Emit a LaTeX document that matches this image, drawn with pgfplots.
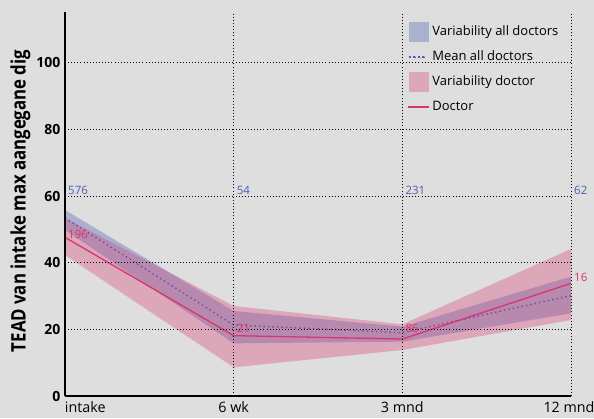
\documentclass[border=0pt]{standalone}
\usepackage{pgfplots}
\pgfplotsset{compat=1.18}
\usepackage{fontspec}
\setmainfont{Open Sans}
\definecolor{bggray}{HTML}{DEDEDE}
\definecolor{bluec}{HTML}{4A5FB4}
\definecolor{pinkc}{HTML}{D8356E}
\begin{document}
\begin{tikzpicture}[x=1pt,y=1pt]
\fill[bggray] (-65,-22) rectangle (529,396);
\path[use as bounding box] (-65,-22) rectangle (529,396);
\begin{axis}[
  at={(0,0)}, anchor=south west,
  scale only axis, width=506pt, height=384pt,
  xmin=0, xmax=3, ymin=0, ymax=115.2,
  clip=false,
  axis x line=bottom, axis y line=left,
  axis line style={-, line width=1.6pt, black},
  xtick={0,1,2,3}, xticklabels={\rlap{intake},6 wk,3 mnd,12 mnd\hspace*{4pt}},
  ytick={0,20,40,60,80,100},
  major tick length=0pt,
  grid=major,
  major grid style={black, line width=0.9pt, dash pattern=on 0.9pt off 2.2pt},
  axis on top,
  /pgf/number format/assume math mode=true,
  xticklabel style={font=\fontsize{14.3}{16}\selectfont, yshift=-2pt},
  yticklabel style={font=\fontsize{14}{16}\selectfont\bfseries, xshift=-1pt},
  ylabel={\scalebox{0.84}[1]{TEAD van intake max aangegane dig}},
  ylabel style={at={(axis description cs:-0.088,0.508)}, anchor=center, font=\fontsize{20}{22}\selectfont\bfseries},
  legend style={at={(0.672,0.98)}, anchor=north west, draw=none, fill=none,
    font=\fontsize{13}{15}\selectfont, row sep=5pt,
    nodes={text height=14pt, text depth=6pt, inner ysep=0pt, inner xsep=3.5pt}},
  legend cell align=left,
]
\addplot[fill=bluec, fill opacity=0.35, draw=none,
  legend image code/.code={\fill[bluec, fill opacity=0.35] (0pt,-10pt) rectangle (20pt,10pt);}]
  coordinates {(0,55.8)(1,25.5)(2,20.8)(3,35.8)(3,24.8)(2,16.3)(1,15.8)(0,49.8)} -- cycle;
\addlegendentry{Variability all doctors}
\addplot[bluec, line width=1.5pt, dash pattern=on 1.5pt off 3pt,
  legend image code/.code={\fill[bluec] (0.5pt,-0.75pt) rectangle (2pt,0.75pt) (5pt,-0.75pt) rectangle (6.5pt,0.75pt) (9.5pt,-0.75pt) rectangle (11pt,0.75pt) (14pt,-0.75pt) rectangle (15.5pt,0.75pt);}]
  coordinates {(0,53.4)(1,21.3)(2,19.0)(3,30.1)};
\addlegendentry{Mean all doctors}
\addplot[fill=pinkc, fill opacity=0.32, draw=none,
  legend image code/.code={\fill[pinkc, fill opacity=0.32] (0pt,-10pt) rectangle (20pt,10pt);}]
  coordinates {(0,53.4)(1,27.0)(2,21.5)(3,44.1)(3,22.8)(2,13.8)(1,8.6)(0,42.3)} -- cycle;
\addlegendentry{Variability doctor}
\addplot[pinkc, line width=1.3pt,
  legend image code/.code={\fill[pinkc] (0pt,-0.7pt) rectangle (19pt,0.7pt);}]
  coordinates {(0,47.6)(1,18.1)(2,17.1)(3,33.8)};
\addlegendentry{Doctor}
\node[bluec, anchor=base west, inner sep=0pt, xshift=3pt, yshift=1.5pt, font=\fontsize{11.5}{13}\selectfont] at (axis cs:0,60) {576};
\node[bluec, anchor=base west, inner sep=0pt, xshift=3pt, yshift=1.5pt, font=\fontsize{11.5}{13}\selectfont] at (axis cs:1,60) {54};
\node[bluec, anchor=base west, inner sep=0pt, xshift=3pt, yshift=1.5pt, font=\fontsize{11.5}{13}\selectfont] at (axis cs:2,60) {231};
\node[bluec, anchor=base west, inner sep=0pt, xshift=3pt, yshift=1.5pt, font=\fontsize{11.5}{13}\selectfont] at (axis cs:3,60) {62};
\node[pinkc, anchor=base west, inner sep=0pt, xshift=3pt, font=\fontsize{11.5}{13}\selectfont] at (axis cs:0,47.4) {196};
\node[pinkc, anchor=base west, inner sep=0pt, xshift=3pt, font=\fontsize{11.5}{13}\selectfont] at (axis cs:1,19.0) {21};
\node[pinkc, anchor=base west, inner sep=0pt, xshift=3pt, font=\fontsize{11.5}{13}\selectfont] at (axis cs:2,19.0) {86};
\node[pinkc, anchor=base west, inner sep=0pt, xshift=3pt, font=\fontsize{11.5}{13}\selectfont] at (axis cs:3,34.5) {16};
\end{axis}
\end{tikzpicture}
\end{document}
